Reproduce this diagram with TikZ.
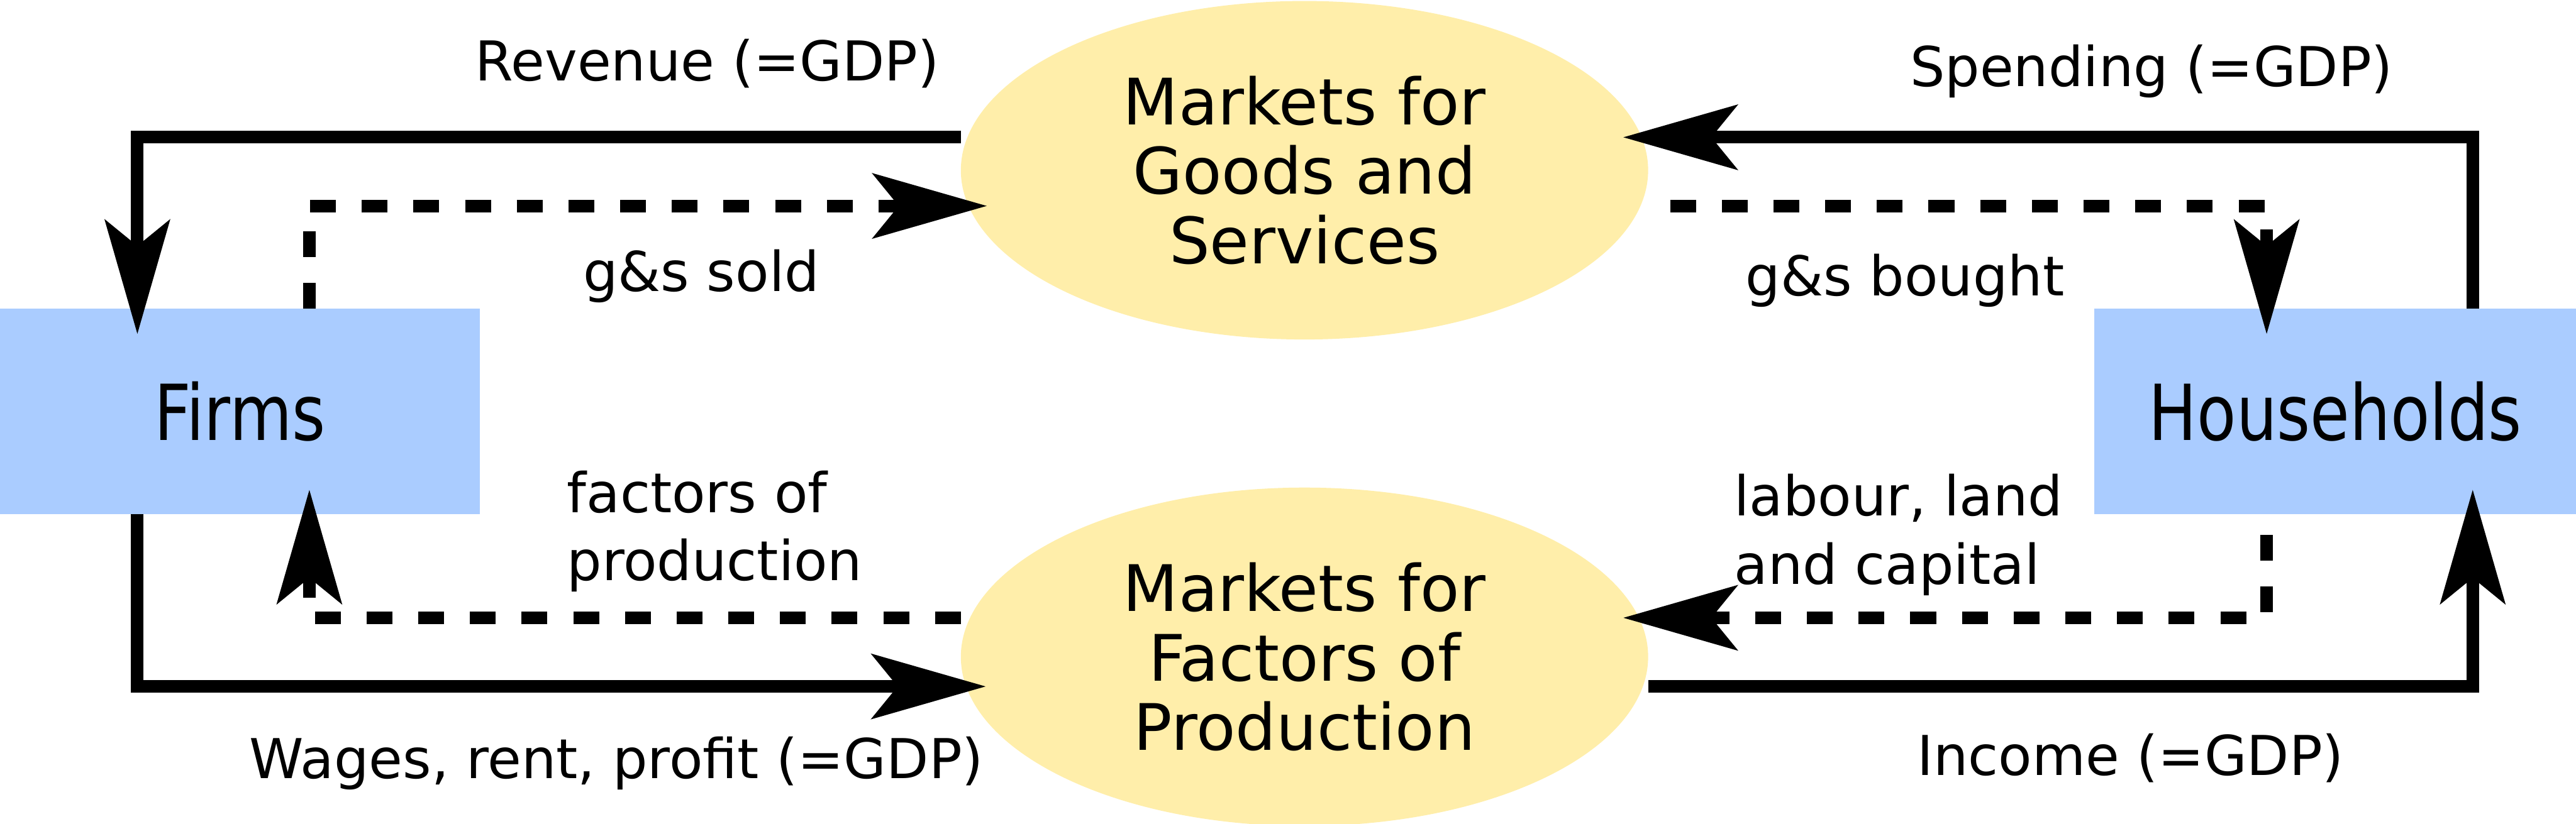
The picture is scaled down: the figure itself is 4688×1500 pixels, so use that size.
\documentclass[tikz,border=0pt]{standalone}
\usepackage{fontspec}
\setmainfont{DejaVu Sans}
\newfontfamily\CircBoxFont{DejaVu Sans}[FakeStretch=0.83]
\usepackage{tikz}
\usetikzlibrary{arrows.meta,calc,shapes.geometric}
\definecolor{CircBlue}{HTML}{AACCFF}
\definecolor{CircSand}{HTML}{FFEEAA}
\tikzset{
  agent/.style={rectangle,fill=CircBlue,inner sep=0pt,outer sep=0pt,minimum height=3.74cm,
    font=\CircBoxFont\fontsize{40pt}{48pt}\selectfont},
  market/.style={ellipse,fill=CircSand,inner sep=0pt,outer sep=0pt,minimum width=12.5cm,
    minimum height=6.16cm,align=center,font=\fontsize{33.2pt}{35.9pt}\selectfont},
  lbl/.style={inner sep=0pt,outer sep=0pt,font=\fontsize{28.45pt}{35.4pt}\selectfont},
  flow/.style={line width=0.23cm,-{Stealth[length=2.09cm,width=1.2cm,inset=0.49cm,line width=0pt]}},
  money/.style={flow},
  real/.style={flow,dash pattern=on 0.47cm off 0.47cm},
}
\begin{document}
\begin{tikzpicture}[x=0.01cm,y=-0.01cm]
  \useasboundingbox (0,0) rectangle (4688,1500);
  \node[agent,minimum width=8.73cm] (firms) at (436.5,749) {Firms};
  \node[agent,minimum width=8.76cm] (households) at (4250,749) {Households};
  \node[market] (goods) at (2374,310) {Markets for\\Goods and\\Services};
  \node[market] (factors) at (2374,1196) {Markets for\\Factors of\\Production};

  \coordinate (revBend) at (250,250);
  \coordinate (spendBend) at (4500,250);
  \coordinate (wageBend) at (250,1250);
  \coordinate (incBend) at (4500,1250);
  \coordinate (soldBend) at (563,375);
  \coordinate (boughtBend) at (4125,375);
  \coordinate (labBend) at (4125,1125);
  \coordinate (facBend) at (563,1125);

  % money flows
  \draw[money] (goods.west |- revBend) -- (revBend) -- ($(firms.north -| revBend)+(0,46)$);
  \draw[money] (households.north -| spendBend) -- (spendBend) -- ($(goods.east |- spendBend)+(-45,0)$);
  \draw[money] (firms.south -| wageBend) -- (wageBend) -- ($(factors.west |- wageBend)+(45,0)$);
  \draw[money] (factors.east |- incBend) -- (incBend) -- ($(households.south -| incBend)+(0,-44)$);
  % goods and factors
  \draw[real] (firms.north -| soldBend) -- (soldBend) -- ($(goods.west |- soldBend)+(47,0)$);
  \draw[real] ($(goods.east |- boughtBend)+(40,0)$) -- (boughtBend) -- ($(households.north -| boughtBend)+(0,46)$);
  \draw[real] ($(households.south -| labBend)+(0,38)$) -- (labBend) -- ($(factors.east |- labBend)+(-45,0)$);
  \draw[real] (factors.west |- facBend) -- (facBend) -- ($(firms.south -| facBend)+(0,-44)$);

  \node[lbl,anchor=base west] (revenue) at (865,147) {Revenue (=GDP)};
  \node[lbl,anchor=base west] (spending) at (3476,157) {Spending (=GDP)};
  \node[lbl,anchor=base west] (sold) at (1061,531) {g\&s sold};
  \node[lbl,anchor=base west] (bought) at (3177,538) {g\&s bought};
  \node[lbl,anchor=north west,align=left] (factorsLbl) at (1032,857) {factors of\\production};
  \node[lbl,anchor=north west,align=left] (labourLbl) at (3156,863) {labour, land\\and capital};
  \node[lbl,anchor=base west] (wages) at (454,1418) {Wages, rent, profit (=GDP)};
  \node[lbl,anchor=base west] (income) at (3489,1412) {Income (=GDP)};
\end{tikzpicture}
\end{document}
